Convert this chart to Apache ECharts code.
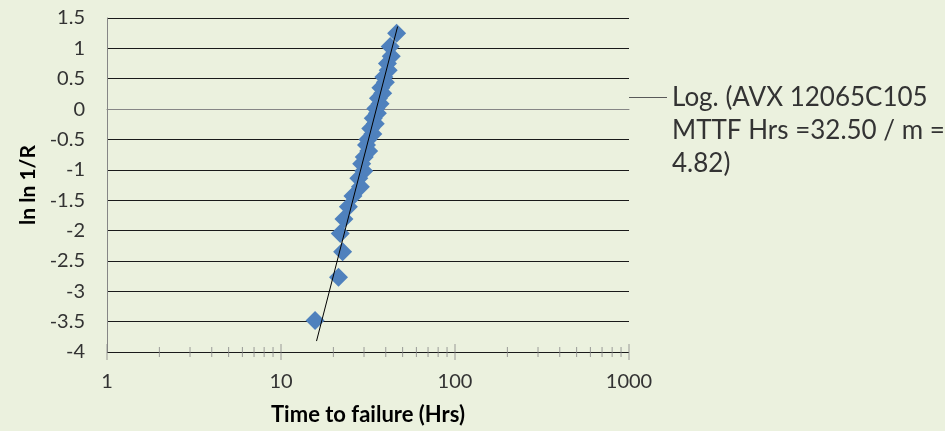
<!DOCTYPE html>
<html>
<head>
<meta charset="utf-8">
<script src="https://cdn.jsdelivr.net/npm/echarts@6/dist/echarts.min.js"></script>
<style>
  html, body { margin: 0; padding: 0; background: #EBF1DE; }
  #main { width: 945px; height: 431px; }
</style>
</head>
<body>
<div id="main"></div>
<script>
// 失效时间 (Hrs) 与 ln ln 1/R
var timeHrs = [15.7, 21.4, 22.6, 21.9, 23.0, 24.4, 25.9, 28.6, 28.0, 29.9, 29.1, 30.1, 31.9, 31.0, 31.6, 33.7,
               32.8, 34.8, 33.9, 35.8, 35.1, 37.1, 36.3, 38.4, 37.5, 39.8, 39.0, 41.3, 40.9, 43.0, 42.4, 46.2];
var lnln = [-3.48, -2.77, -2.35, -2.05, -1.81, -1.61, -1.43, -1.28, -1.14, -1.02, -0.90, -0.79, -0.69, -0.59, -0.50, -0.41,
            -0.32, -0.24, -0.15, -0.07, 0.01, 0.09, 0.18, 0.26, 0.35, 0.44, 0.53, 0.64, 0.75, 0.87, 1.03, 1.25];

// 趋势线两端
var trendX = [16.0, 46.8];
var trendY = [-3.82, 1.36];
var trendName = 'Log. (AVX 12065C105\nMTTF Hrs =32.50 / m =\n4.82)';

// X轴刻度
var majorTicks = [1, 10, 100, 1000];
var minorTicks = [2, 3, 4, 5, 6, 7, 8, 9, 20, 30, 40, 50, 60, 70, 80, 90, 200, 300, 400, 500, 600, 700, 800, 900];

var FONT = 'Lato';
var chart = echarts.init(document.getElementById('main'));

var pts = [];
for (var i = 0; i < timeHrs.length; i++) pts.push([timeHrs[i], lnln[i]]);
var trend = [];
for (var i = 0; i < trendX.length; i++) trend.push([trendX[i], trendY[i]]);
var majorData = majorTicks.map(function (v) { return [v, -4]; });
var minorData = minorTicks.map(function (v) { return [v, -4]; });

// 图例线条放在第一行文字处
var legendIcon = 'path://M0,0 H0.01 V0.01 H0 Z M0,16 H38 V17 H0 Z M0,98.99 H0.01 V99 H0 Z';

chart.setOption({
    backgroundColor: '#EBF1DE',
    animation: false,
    textStyle: { fontFamily: FONT },
    grid: { left: 107, right: 316, top: 18, bottom: 79 },
    legend: {
        left: 629, top: 81, padding: 0,
        itemWidth: 38, itemHeight: 99,
        data: [{ name: trendName, icon: legendIcon, itemStyle: { color: '#595959' } }],
        textStyle: { fontSize: 26, color: '#333', lineHeight: 33, fontFamily: FONT }
    },
    xAxis: {
        type: 'log', logBase: 10, min: 1, max: 1000, z: 3,
        name: 'Time to failure (Hrs)', nameLocation: 'middle', nameGap: 52,
        nameTextStyle: { fontSize: 22, fontWeight: 'bold', color: '#000', fontFamily: FONT },
        axisLine: { lineStyle: { color: '#868686', width: 1 } },
        axisTick: { show: false },
        splitLine: { show: false },
        axisLabel: {
            fontSize: 20, color: '#333', margin: 20, fontFamily: FONT,
            formatter: function (v) { return String(Math.round(v)); }
        }
    },
    yAxis: {
        type: 'value', min: -4, max: 1.5, interval: 0.5, z: 1,
        name: 'ln ln 1/R', nameLocation: 'middle', nameGap: 66,
        nameTextStyle: { fontSize: 21, fontWeight: 'bold', color: '#000', fontFamily: FONT },
        axisLine: { show: true, lineStyle: { color: '#868686', width: 1 } },
        axisTick: { show: false },
        splitLine: { show: true, lineStyle: { color: '#1a1a1a', width: 1 } },
        axisLabel: { fontSize: 20, color: '#333', margin: 22, fontFamily: FONT }
    },
    series: [
        {
            name: 'minorTicks', type: 'scatter', data: minorData, clip: false, silent: true, z: 4,
            symbol: 'rect', symbolSize: [1, 10], itemStyle: { color: '#868686' }
        },
        {
            name: 'majorTicks', type: 'scatter', data: majorData, clip: false, silent: true, z: 4,
            symbol: 'rect', symbolSize: [1, 16], itemStyle: { color: '#868686' }
        },
        {
            name: 'AVX 12065C105', type: 'scatter', data: pts, z: 5,
            symbol: 'diamond', symbolSize: 19, itemStyle: { color: '#4F81BD', opacity: 1 }
        },
        {
            name: trendName, type: 'line', data: trend, z: 6,
            symbol: 'none', lineStyle: { color: '#000', width: 1 }, itemStyle: { color: '#595959' }
        }
    ]
});
</script>
</body>
</html>
